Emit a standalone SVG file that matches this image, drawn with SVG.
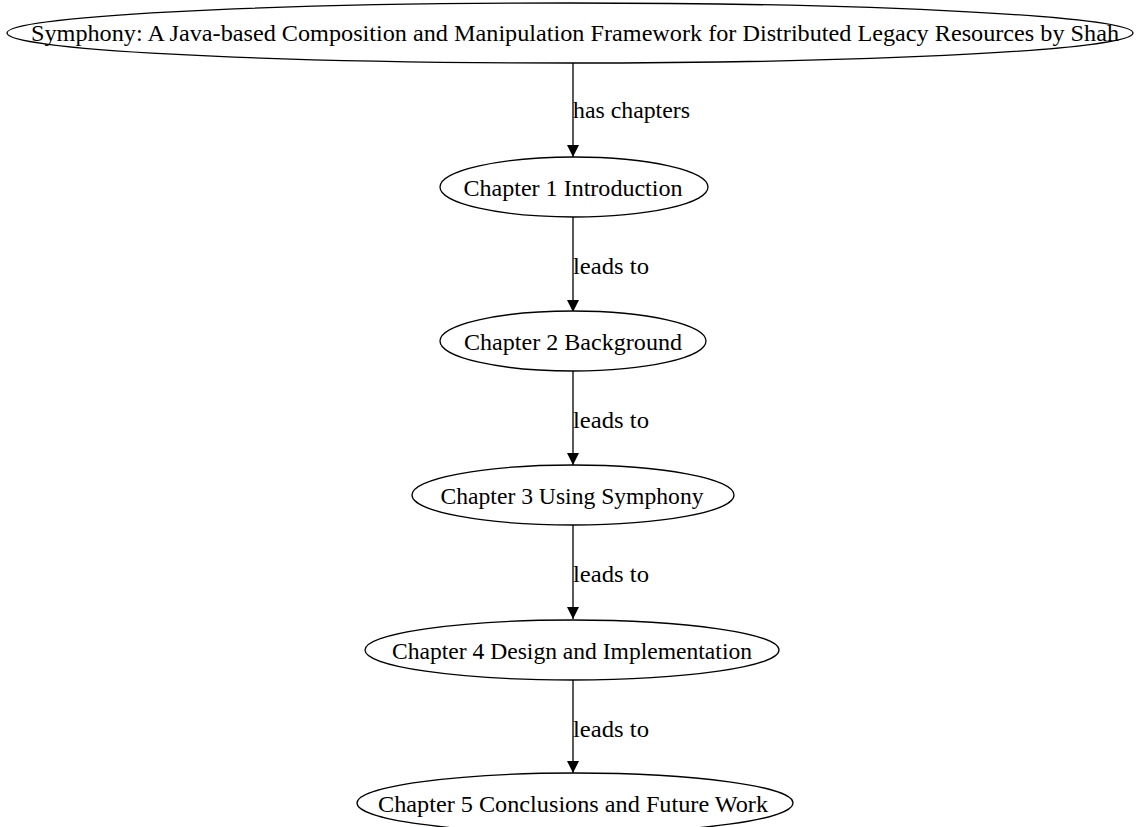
<svg xmlns="http://www.w3.org/2000/svg" width="1138" height="827" viewBox="0 0 1138 827">
<style>
.n ellipse{fill:#fff;stroke:#000;stroke-width:1.3}
text{font-family:"Liberation Serif","Times New Roman",serif;font-size:24px;fill:#000}
.n text{text-anchor:middle}
.e line{stroke:#000;stroke-width:1.3}
</style>
<defs>
<marker id="ah" markerWidth="12" markerHeight="18" refX="12" refY="6" orient="auto" markerUnits="userSpaceOnUse" viewBox="0 0 12 12">
<path d="M0,0 L12,6 L0,12 Z" fill="#000"/>
</marker>
</defs>
<rect width="1138" height="827" fill="#fff"/>
<g id="connectors" class="e">
<line x1="573" y1="63" x2="573" y2="157" marker-end="url(#ah)"/>
<line x1="573" y1="217" x2="573" y2="312" marker-end="url(#ah)"/>
<line x1="573" y1="371" x2="573" y2="465" marker-end="url(#ah)"/>
<line x1="573" y1="525" x2="573" y2="619" marker-end="url(#ah)"/>
<line x1="573" y1="680" x2="573" y2="773" marker-end="url(#ah)"/>
<text x="573" y="118" textLength="117" lengthAdjust="spacingAndGlyphs">has chapters</text>
<text x="573" y="274" textLength="76" lengthAdjust="spacingAndGlyphs">leads to</text>
<text x="573" y="428" textLength="76" lengthAdjust="spacingAndGlyphs">leads to</text>
<text x="573" y="582" textLength="76" lengthAdjust="spacingAndGlyphs">leads to</text>
<text x="573" y="737" textLength="76" lengthAdjust="spacingAndGlyphs">leads to</text>
</g>
<g id="title" class="n"><ellipse cx="570" cy="33" rx="563" ry="30"/><text x="575" y="41" textLength="1088" lengthAdjust="spacingAndGlyphs">Symphony: A Java-based Composition and Manipulation Framework for Distributed Legacy Resources by Shah</text></g>
<g id="ch1" class="n"><ellipse cx="574" cy="187" rx="134" ry="30"/><text x="573" y="196" textLength="219" lengthAdjust="spacingAndGlyphs">Chapter 1 Introduction</text></g>
<g id="ch2" class="n"><ellipse cx="573" cy="341" rx="133" ry="30"/><text x="573" y="350" textLength="218" lengthAdjust="spacingAndGlyphs">Chapter 2 Background</text></g>
<g id="ch3" class="n"><ellipse cx="573" cy="495" rx="161" ry="30"/><text x="572" y="504" textLength="263" lengthAdjust="spacingAndGlyphs">Chapter 3 Using Symphony</text></g>
<g id="ch4" class="n"><ellipse cx="572" cy="650" rx="207" ry="30"/><text x="572" y="659" textLength="360" lengthAdjust="spacingAndGlyphs">Chapter 4 Design and Implementation</text></g>
<g id="ch5" class="n"><ellipse cx="575" cy="803" rx="218" ry="30"/><text x="573" y="812" textLength="390" lengthAdjust="spacingAndGlyphs">Chapter 5 Conclusions and Future Work</text></g>
</svg>
